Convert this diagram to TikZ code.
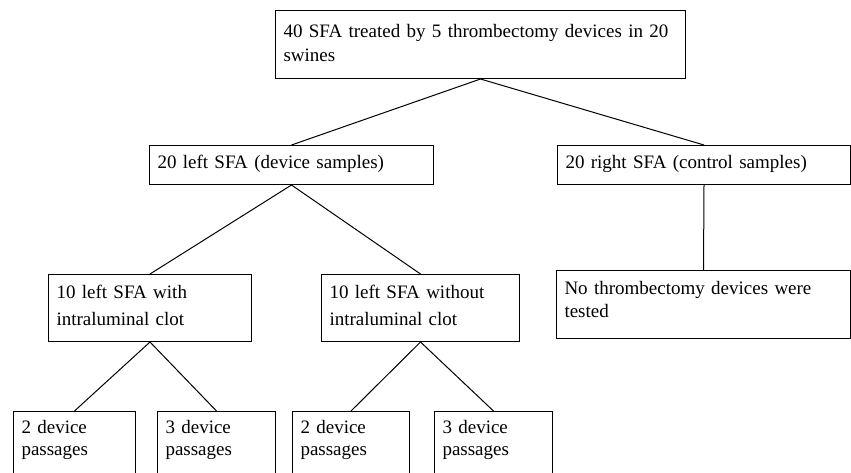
\documentclass[tikz,border=0pt]{standalone}
\usepackage{fontspec}
\setmainfont{Liberation Serif}

\begin{document}
\begin{tikzpicture}[x=1pt, y=-1pt,
    box/.style={rectangle, draw, line width=1pt, anchor=north west, align=left,
        inner xsep=8pt, inner ysep=0pt, font=\fontsize{19}{#1}\selectfont},
    box/.default=24,
    link/.style={line width=1pt}]
        \useasboundingbox (0,0) rectangle (851,472);
        \clip (0,0) rectangle (851,472);

        % Nodes
        \node (all) [box=24, text width=394pt, text height=27pt, text depth=41pt] at (275,10)
            {40 SFA treated by 5 thrombectomy devices in 20\\swines};

        \node (sfaL) [box, text width=268pt, text height=23pt, text depth=16pt] at (149,145)
            {20 left SFA (device samples)};
        \node (sfaR) [box, text width=277pt, text height=23pt, text depth=16pt] at (557,145)
            {20 right SFA (control samples)};

        \node (clotY) [box=27, text width=187pt, text height=24pt, text depth=43pt] at (48,274)
            {10 left SFA with\\intraluminal clot};
        \node (clotN) [box=27, text width=182pt, text height=24pt, text depth=43pt] at (321,274)
            {10 left SFA without\\intraluminal clot};
        \node (ctrl) [box=23, text width=278pt, text height=24pt, text depth=44pt] at (556,270)
            {No thrombectomy devices were\\tested};

        \node (pY2) [box=22, text width=106pt, text height=22pt, text depth=70pt] at (13,411)
            {2 device\\passages};
        \node (pY3) [box=22, text width=102pt, text height=22pt, text depth=70pt] at (157,411)
            {3 device\\passages};
        \node (pN2) [box=22, text width=101pt, text height=22pt, text depth=70pt] at (292,411)
            {2 device\\passages};
        \node (pN3) [box=22, text width=102pt, text height=22pt, text depth=70pt] at (434,411)
            {3 device\\passages};

        % Edges
        \draw[link] (all.south) -- (sfaL.north);
        \draw[link] (all.south) -- (sfaR.north);
        \draw[link] (sfaL.south) -- (clotY.north);
        \draw[link] (sfaL.south) -- (clotN.north);
        \draw[link] (sfaR.south) -- (ctrl.north);
        \draw[link] (clotY.south) -- (pY2.north);
        \draw[link] (clotY.south) -- (pY3.north);
        \draw[link] (clotN.south) -- (pN2.north);
        \draw[link] (clotN.south) -- (pN3.north);

    \end{tikzpicture}
\end{document}
